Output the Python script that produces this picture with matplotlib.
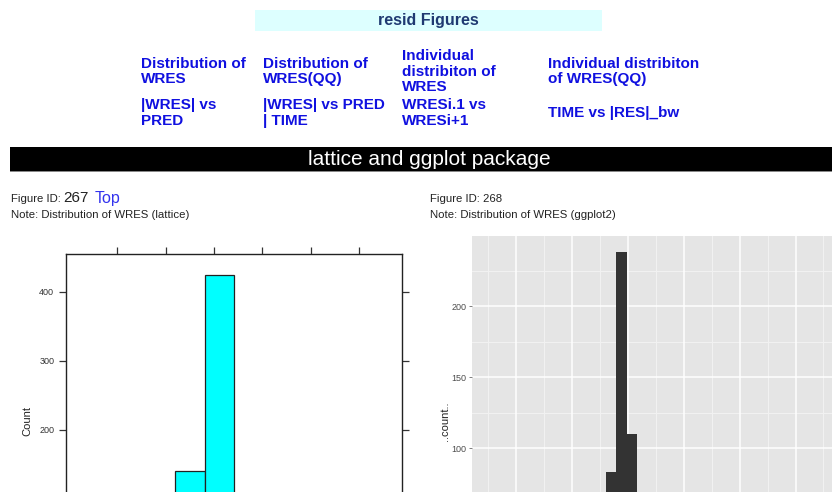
import matplotlib.pyplot as plt
from matplotlib.patches import Rectangle

W, H = 832, 492

# dane
lattice_edges = [-2.63, -2.02, -1.41, -0.80, -0.19, 0.42, 1.03, 1.64, 2.25, 2.86, 3.47]
lattice_counts = [2, 6, 20, 140, 425, 70, 15, 4, 2, 1]
lattice_xticks = [-2, -1, 0, 1, 2, 3]
lattice_yticks = [100, 200, 300, 400]

gg_edges = [-0.78, -0.59, -0.40, -0.21, -0.02, 0.17, 0.36, 0.55]
gg_counts = [10, 45, 83, 238, 110, 60, 20]
gg_yticks = [100, 150, 200]
gg_yminor = [125, 175, 225]
gg_xmajor = [-2, -1, 0, 1, 2, 3]
gg_xminor = [-2.5, -1.5, -0.5, 0.5, 1.5, 2.5, 3.5]

links_row1 = [(141, ["Distribution of", "WRES"]),
              (263, ["Distribution of", "WRES(QQ)"]),
              (402, ["Individual", "distribiton of", "WRES"]),
              (548, ["Individual distribiton", "of WRES(QQ)"])]
links_row2 = [(141, ["|WRES| vs", "PRED"]),
              (263, ["|WRES| vs PRED", "| TIME"]),
              (402, ["WRESi.1 vs", "WRESi+1"]),
              (548, ["TIME vs |RES|_bw"])]

plt.rcParams['font.family'] = ['Liberation Sans', 'DejaVu Sans']

fig = plt.figure(figsize=(W / 100, H / 100), dpi=100)
fig.patch.set_facecolor('white')


def fx(x):
    return x / W


def fy(y):
    return 1 - y / H


def txt(x, y, s, **kw):
    fig.text(fx(x), fy(y), s, va='center', **kw)


# --- naglowek strony
fig.add_artist(Rectangle((fx(255), fy(31)), (602 - 255) / W, 21 / H,
                         transform=fig.transFigure, facecolor='#DDFFFF', edgecolor='none'))
txt(428, 20, 'resid Figures', ha='center', fontsize=11.5, fontweight='bold', color='#1F3A72')

link_color = '#1010E0'
for x, lines in links_row1:
    start = 56 if len(lines) == 3 else 63.5
    for i, s in enumerate(lines):
        txt(x, start + i * 15.5, s, fontsize=11, fontweight='bold', color=link_color)
for x, lines in links_row2:
    start = 113 if len(lines) == 1 else 105.5
    for i, s in enumerate(lines):
        txt(x, start + i * 15.5, s, fontsize=11, fontweight='bold', color=link_color)

fig.add_artist(Rectangle((fx(10), fy(171)), (W - 10) / W, 24 / H,
                         transform=fig.transFigure, facecolor='black', edgecolor='none'))
fig.add_artist(Rectangle((fx(10), fy(172)), (W - 10) / W, 1.2 / H,
                         transform=fig.transFigure, facecolor='#888888', edgecolor='none'))
txt(429, 159, 'lattice and ggplot package', ha='center', fontsize=15, color='white')

# --- opisy wykresow
txt(11, 199, 'Figure ID:', fontsize=8.2, color='#222222')
txt(63, 198, '267', fontsize=11, color='#222222')
txt(95, 198, 'Top', fontsize=11.5, color='#3333EE')
txt(11, 215, 'Note: Distribution of WRES (lattice)', fontsize=8.2, color='#222222')
txt(430, 199, 'Figure ID: 268', fontsize=8.2, color='#222222')
txt(430, 215, 'Note: Distribution of WRES (ggplot2)', fontsize=8.2, color='#222222')

# --- Wykres 1: lattice
top, bottom = 254, 588.7
ax1 = fig.add_axes([fx(66), fy(bottom), (402 - 66) / W, (bottom - top) / H])
widths = [b - a for a, b in zip(lattice_edges[:-1], lattice_edges[1:])]
ax1.bar(lattice_edges[:-1], lattice_counts, width=widths, align='edge',
        color='#00FFFF', edgecolor='#222222', linewidth=0.9)
ax1.set_xlim(-3.06, 3.89)
ax1.set_ylim(-29.75, 454.75)
ax1.set_xticks(lattice_xticks)
ax1.set_yticks(lattice_yticks)
ax1.tick_params(axis='x', top=True, bottom=True, labeltop=False, labelbottom=False,
                direction='out', length=5, width=0.9, color='#333333')
ax1.tick_params(axis='y', left=True, right=True, labelright=False, direction='out',
                length=5, width=0.9, color='#333333', labelsize=6.5, labelcolor='#333333')
for sp in ax1.spines.values():
    sp.set_color('#222222')
    sp.set_linewidth(1.0)
ax1.set_ylabel('Count', fontsize=8, color='#222222', labelpad=5)

# --- Wykres 2: ggplot2
top2, bottom2 = 236, 607
ax2 = fig.add_axes([fx(472), fy(bottom2), (838 - 472) / W, (bottom2 - top2) / H])
ax2.set_facecolor('#E5E5E5')
ax2.set_xlim(-2.79, 3.76)
ax2.set_ylim(-11.9, 249.3)
for v in gg_xminor:
    ax2.axvline(v, color='#F2F2F2', linewidth=0.7, zorder=0)
for v in gg_yminor:
    ax2.axhline(v, color='#F2F2F2', linewidth=0.7, zorder=0)
for v in gg_xmajor:
    ax2.axvline(v, color='white', linewidth=1.1, zorder=0)
for v in gg_yticks:
    ax2.axhline(v, color='white', linewidth=1.1, zorder=0)
widths2 = [b - a for a, b in zip(gg_edges[:-1], gg_edges[1:])]
ax2.bar(gg_edges[:-1], gg_counts, width=widths2, align='edge', color='#333333',
        edgecolor='none', zorder=2)
ax2.set_xticks(gg_xmajor)
ax2.set_yticks(gg_yticks)
ax2.tick_params(axis='both', direction='out', length=2.5, width=0.7, color='#7F7F7F',
                labelsize=6.5, labelcolor='#4D4D4D', pad=1.5)
ax2.tick_params(axis='x', labelbottom=False)
for sp in ax2.spines.values():
    sp.set_visible(False)
ax2.set_ylabel('..count..', fontsize=8, color='#222222', labelpad=1)

fig.savefig('out.png', dpi=100)
